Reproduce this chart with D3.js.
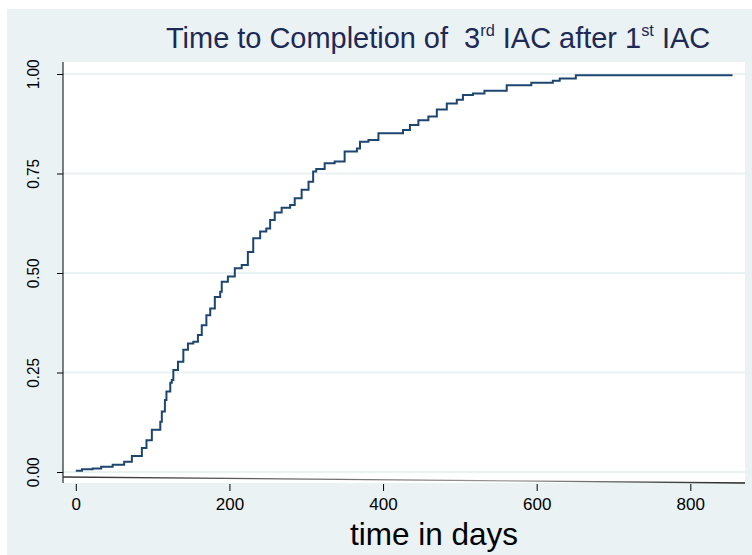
<!DOCTYPE html>
<html lang="en">
<head>
    <meta charset="UTF-8">
    <title>Time to Completion of 3rd IAC after 1st IAC</title>
    <script src="https://d3js.org/d3.v7.min.js"></script>
    <style>
        body { margin: 0; background: #fff; }
        text { font-family: "Liberation Sans", Arial, sans-serif; }
    </style>
</head>
<body>
    <svg id="km-chart"></svg>
    <script>
        // step points (days, cumulative share completed)
        var days = [0, 8, 22, 33, 48, 63, 73, 86, 92, 99, 110, 112, 116, 118, 123, 125, 127, 133, 140, 146,
                    153, 159, 164, 170, 175, 181, 188, 190, 198, 207, 216, 224, 231, 240, 248, 253, 259, 268, 279, 285,
                    294, 303, 309, 313, 324, 337, 350, 366, 370, 381, 394, 426, 435, 446, 459, 470, 483, 496, 504, 517,
                    532, 561, 593, 621, 630, 651, 855];
        var failure = [0.003, 0.007, 0.009, 0.013, 0.018, 0.026, 0.040, 0.060, 0.080, 0.106, 0.126, 0.152, 0.181, 0.202, 0.224, 0.231, 0.256, 0.277, 0.307, 0.323,
                       0.327, 0.344, 0.369, 0.394, 0.411, 0.440, 0.453, 0.478, 0.491, 0.512, 0.520, 0.553, 0.587, 0.604, 0.612, 0.633, 0.652, 0.664, 0.671, 0.688,
                       0.709, 0.729, 0.755, 0.761, 0.776, 0.780, 0.805, 0.813, 0.830, 0.834, 0.851, 0.859, 0.872, 0.884, 0.893, 0.911, 0.926, 0.935, 0.947, 0.951,
                       0.958, 0.972, 0.978, 0.983, 0.989, 0.997, 0.997];
        var yTicks = [0, 0.25, 0.5, 0.75, 1];
        var xTicks = [0, 200, 400, 600, 800];
        var xTitle = "time in days";

        var W = 752, H = 555;
        var plot = { left: 63, right: 745, top: 62, bottom: 483 };

        var svg = d3.select("#km-chart")
                    .attr("width", W)
                    .attr("height", H);

        // outer panel
        svg.append("rect")
           .attr("x", 7).attr("y", 9)
           .attr("width", W - 7).attr("height", H - 9)
           .attr("fill", "#eaf2f3");

        svg.append("rect")
           .attr("x", plot.left).attr("y", plot.top)
           .attr("width", plot.right - plot.left).attr("height", plot.bottom - plot.top)
           .attr("fill", "#fff");

        var xScale = d3.scaleLinear().domain([0, 800]).range([75.8, 690.3]);
        var yScale = d3.scaleLinear().domain([0, 1]).range([472, 74]);

        // gridlines
        svg.append("g")
           .selectAll("line")
           .data(yTicks)
           .join("line")
           .attr("x1", plot.left).attr("x2", plot.right)
           .attr("y1", function(d) { return yScale(d); })
           .attr("y2", function(d) { return yScale(d); })
           .attr("stroke", "#eaf2f3")
           .attr("stroke-width", 2);

        // y axis
        var yAxis = svg.append("g")
           .attr("transform", "translate(" + plot.left + ",0)")
           .call(d3.axisLeft(yScale).tickValues(yTicks).tickFormat(d3.format(".2f")).tickSize(6).tickPadding(0));
        yAxis.select(".domain").remove();
        yAxis.append("line")
             .attr("x1", 0).attr("x2", 0)
             .attr("y1", plot.top).attr("y2", plot.bottom)
             .attr("stroke", "#000");
        yAxis.selectAll(".tick line").attr("stroke", "#000");
        yAxis.selectAll(".tick text")
             .attr("fill", "#000")
             .attr("font-size", "17px")
             .attr("text-anchor", "middle")
             .attr("transform", "translate(-30,0) rotate(-90) scale(0.9,1)")
             .attr("x", 0)
             .attr("dy", "0.35em");

        // x axis
        var xAxis = svg.append("g")
           .attr("transform", "translate(0," + (plot.bottom + 1) + ")")
           .call(d3.axisBottom(xScale).tickValues(xTicks).tickFormat(d3.format("d")).tickSize(7).tickPadding(7));
        xAxis.select(".domain").remove();
        xAxis.selectAll(".tick line").attr("stroke", "#000");
        xAxis.selectAll(".tick text").attr("fill", "#000").attr("font-size", "17px");

        // slanted baseline along the bottom of the plot
        var grad = svg.append("defs").append("linearGradient")
                      .attr("id", "baseGrad")
                      .attr("gradientUnits", "userSpaceOnUse")
                      .attr("x1", plot.left).attr("x2", plot.right)
                      .attr("y1", 0).attr("y2", 0);
        grad.append("stop").attr("offset", "0%").attr("stop-color", "#333");
        grad.append("stop").attr("offset", "65%").attr("stop-color", "#999");
        grad.append("stop").attr("offset", "100%").attr("stop-color", "#222");
        svg.append("line")
           .attr("x1", plot.left).attr("y1", 477)
           .attr("x2", plot.right).attr("y2", 483)
           .attr("stroke", "url(#baseGrad)")
           .attr("stroke-width", 1.3);

        // KM failure curve
        var pts = days.map(function(d, i) { return [d, failure[i]]; });
        var line = d3.line()
                     .x(function(d) { return xScale(d[0]); })
                     .y(function(d) { return yScale(d[1]); })
                     .curve(d3.curveStepAfter);
        svg.append("path")
           .datum(pts)
           .attr("fill", "none")
           .attr("stroke", "#1c466f")
           .attr("stroke-width", 2)
           .attr("d", line);

        // title with superscripts
        var title = svg.append("text")
                       .attr("transform", "translate(166,48) scale(0.965,1)")
                       .attr("fill", "#1e2a55")
                       .attr("font-size", "30px")
                       .style("white-space", "pre");
        title.append("tspan").text("Time to Completion of  3");
        title.append("tspan").attr("font-size", "17px").attr("dy", -12).text("rd");
        title.append("tspan").attr("dy", 12).text(" IAC after 1");
        title.append("tspan").attr("font-size", "17px").attr("dy", -12).text("st");
        title.append("tspan").attr("dy", 12).text(" IAC");

        svg.append("text")
           .attr("x", 434).attr("y", 545)
           .attr("text-anchor", "middle")
           .attr("font-size", "31.5px")
           .attr("fill", "#000")
           .text(xTitle);
    </script>
</body>
</html>
